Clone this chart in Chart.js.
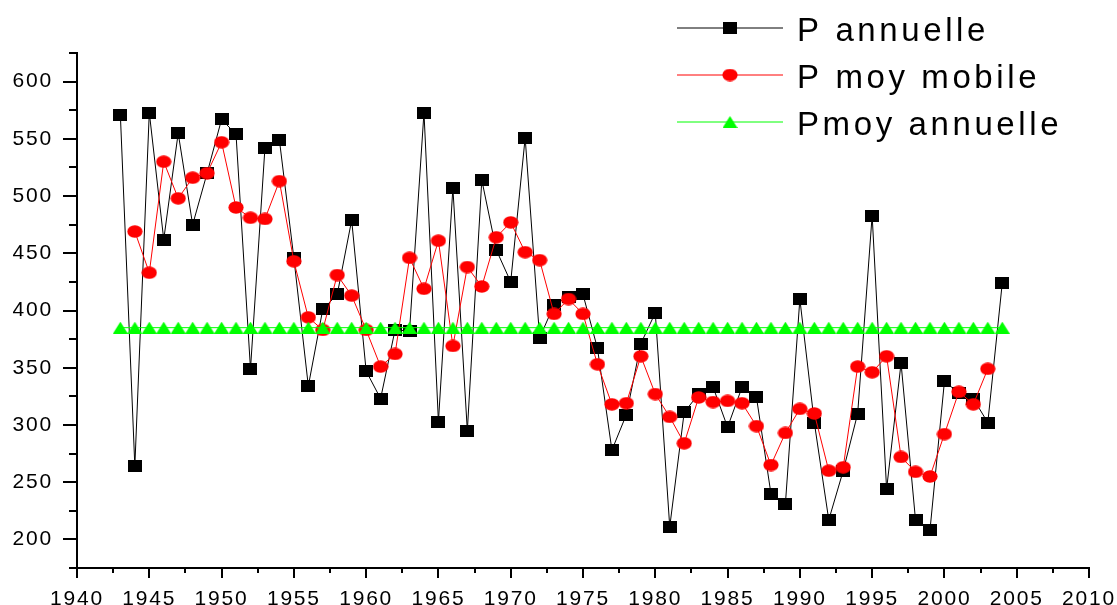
<!DOCTYPE html>
<html>
<head>
<meta charset="utf-8">
<script src="https://cdn.jsdelivr.net/npm/chart.js@4.4.1/dist/chart.umd.min.js"></script>
<style>
  html, body { margin: 0; padding: 0; background: #fff; }
  #wrap { width: 1117px; height: 605px; }
</style>
</head>
<body>
<div id="wrap"><canvas id="chart" width="1117" height="605"></canvas></div>
<script>
// Years on the x axis
const years = [
  1943, 1944, 1945, 1946, 1947, 1948, 1949, 1950, 1951, 1952,
  1953, 1954, 1955, 1956, 1957, 1958, 1959, 1960, 1961, 1962,
  1963, 1964, 1965, 1966, 1967, 1968, 1969, 1970, 1971, 1972,
  1973, 1974, 1975, 1976, 1977, 1978, 1979, 1980, 1981, 1982,
  1983, 1984, 1985, 1986, 1987, 1988, 1989, 1990, 1991, 1992,
  1993, 1994, 1995, 1996, 1997, 1998, 1999, 2000, 2001, 2002,
  2003, 2004
];

// P annuelle (black squares)
const pAnnuelle = [
  571, 264, 573, 462, 555, 475, 520, 567, 554, 349,
  542, 549, 446, 334, 401, 414, 479, 347, 323, 383,
  382, 573, 303, 507, 295, 514, 453, 425, 551, 376,
  405, 412, 414, 367, 278, 309, 371, 398, 211, 311,
  327, 333, 298, 333, 324, 240, 231, 410, 302, 217,
  260, 310, 483, 244, 354, 217, 208, 338, 328, 323,
  302, 424
];

// P moy mobile (red circles), no value for first and last year
const pMoyMobile = [
  null, 469, 433, 530, 498, 516, 520, 547, 490, 481,
  480, 513, 443, 394, 383, 431, 413, 383, 351, 362,
  446, 419, 461, 369, 438, 421, 464, 477, 451, 444,
  397, 410, 397, 353, 318, 319, 360, 327, 307, 284,
  324, 320, 321, 319, 299, 265, 293, 314, 310, 260,
  263, 351, 346, 360, 272, 259, 255, 292, 329, 318,
  349, null
];

// Pmoy annuelle (green triangles)
const pMoyAnnuelle = [
  385, 385, 385, 385, 385, 385, 385, 385, 385, 385,
  385, 385, 385, 385, 385, 385, 385, 385, 385, 385,
  385, 385, 385, 385, 385, 385, 385, 385, 385, 385,
  385, 385, 385, 385, 385, 385, 385, 385, 385, 385,
  385, 385, 385, 385, 385, 385, 385, 385, 385, 385,
  385, 385, 385, 385, 385, 385, 385, 385, 385, 385,
  385, 385
];

const xTicks = [1940, 1945, 1950, 1955, 1960, 1965, 1970, 1975, 1980, 1985, 1990, 1995, 2000, 2005, 2010];
const xMinorTicks = [1942.5, 1947.5, 1952.5, 1957.5, 1962.5, 1967.5, 1972.5, 1977.5, 1982.5, 1987.5, 1992.5, 1997.5, 2002.5, 2007.5];
const yTicks = [200, 250, 300, 350, 400, 450, 500, 550, 600];
const yMinorTicks = [175, 225, 275, 325, 375, 425, 475, 525, 575, 625];
const seriesNames = ['P annuelle', 'P moy mobile', 'Pmoy annuelle'];

const FONT = "'Liberation Sans', Arial, sans-serif";

// Marker images (the reference markers are a little wider than tall)
function makeMarker(kind, color) {
  const c = document.createElement('canvas');
  const ctx = c.getContext('2d');
  if (kind === 'square') {
    c.width = 14; c.height = 12;
    ctx.fillStyle = color;
    ctx.fillRect(0, 0, 14, 12);
  } else if (kind === 'ellipse') {
    c.width = 16; c.height = 13;
    ctx.fillStyle = color;
    ctx.beginPath();
    ctx.ellipse(8, 6.5, 7.6, 6.2, 0, 0, Math.PI * 2);
    ctx.fill();
  } else {
    c.width = 15; c.height = 12;
    ctx.fillStyle = color;
    ctx.beginPath();
    ctx.moveTo(7.5, 0);
    ctx.lineTo(15, 12);
    ctx.lineTo(0, 12);
    ctx.closePath();
    ctx.fill();
  }
  return c;
}

const squareMark = makeMarker('square', '#000000');
const circleMark = makeMarker('ellipse', '#ff0000');
const triangleMark = makeMarker('triangle', '#00ff00');

function toPoints(values) {
  return years.map((yr, i) => ({ x: yr, y: values[i] }));
}

// Letter spacing for the axis labels
const spacingPlugin = {
  id: 'spacing',
  beforeDraw(chart) { chart.ctx.letterSpacing = '1.8px'; },
  afterDraw(chart) { chart.ctx.letterSpacing = '0px'; }
};

// Minor ticks on both axes
const minorTicksPlugin = {
  id: 'minorTicks',
  afterDraw(chart) {
    const ctx = chart.ctx;
    const xs = chart.scales.x;
    const ys = chart.scales.y;
    const area = chart.chartArea;
    ctx.save();
    ctx.strokeStyle = '#000';
    ctx.lineWidth = 2;
    ctx.beginPath();
    yMinorTicks.forEach(v => {
      const py = Math.round(ys.getPixelForValue(v));
      ctx.moveTo(area.left, py);
      ctx.lineTo(area.left - 8, py);
    });
    xMinorTicks.forEach(v => {
      const px = Math.round(xs.getPixelForValue(v));
      ctx.moveTo(px, area.bottom);
      ctx.lineTo(px, area.bottom + 5);
    });
    ctx.stroke();
    ctx.restore();
  }
};

// Legend drawn at the top right, line through marker like the original
const legendPlugin = {
  id: 'sideLegend',
  afterDraw(chart) {
    const ctx = chart.ctx;
    const rows = [
      { y: 28, color: '#000000', mark: squareMark },
      { y: 75, color: '#ff0000', mark: circleMark },
      { y: 122, color: '#00ff00', mark: triangleMark }
    ];
    ctx.save();
    ctx.letterSpacing = '3.6px';
    ctx.font = '33px ' + FONT;
    ctx.textBaseline = 'alphabetic';
    ctx.textAlign = 'left';
    rows.forEach((r, i) => {
      ctx.strokeStyle = r.color;
      ctx.lineWidth = 1;
      ctx.beginPath();
      ctx.moveTo(677, r.y);
      ctx.lineTo(783, r.y);
      ctx.stroke();
      ctx.drawImage(r.mark, 730 - r.mark.width / 2, r.y - r.mark.height / 2);
      ctx.fillStyle = '#000';
      ctx.fillText(seriesNames[i], 797, r.y + 13);
    });
    ctx.restore();
  }
};

new Chart(document.getElementById('chart'), {
  type: 'line',
  data: {
    datasets: [
      {
        label: seriesNames[0],
        data: toPoints(pAnnuelle),
        borderColor: '#000000',
        borderWidth: 1,
        pointStyle: squareMark,
        order: 3
      },
      {
        label: seriesNames[1],
        data: toPoints(pMoyMobile),
        borderColor: '#ff0000',
        borderWidth: 1,
        pointStyle: circleMark,
        order: 2
      },
      {
        label: seriesNames[2],
        data: toPoints(pMoyAnnuelle),
        borderColor: '#00ff00',
        borderWidth: 1,
        pointStyle: triangleMark,
        order: 1
      }
    ]
  },
  options: {
    responsive: false,
    animation: false,
    devicePixelRatio: 1,
    layout: { padding: { top: 53, right: 28, left: 0, bottom: 0 } },
    elements: { line: { tension: 0, fill: false } },
    plugins: {
      legend: { display: false },
      tooltip: { enabled: false },
      title: { display: false }
    },
    scales: {
      x: {
        type: 'linear',
        min: 1940,
        max: 2010,
        afterBuildTicks: scale => { scale.ticks = xTicks.map(v => ({ value: v })); },
        afterFit: scale => {
          scale.height = 37;
          scale.paddingLeft = 0;
          scale.paddingRight = 0;
        },
        grid: { drawOnChartArea: false, color: '#000', lineWidth: 2, tickLength: 10 },
        border: { display: true, color: '#000', width: 2 },
        ticks: {
          color: '#000',
          font: { family: FONT, size: 21 },
          padding: 9,
          maxRotation: 0,
          autoSkip: false,
          callback: v => String(v)
        }
      },
      y: {
        min: 175,
        max: 625,
        afterBuildTicks: scale => { scale.ticks = yTicks.map(v => ({ value: v })); },
        afterFit: scale => {
          scale.width = 77;
          scale.paddingTop = 0;
          scale.paddingBottom = 0;
        },
        grid: { drawOnChartArea: false, color: '#000', lineWidth: 2, tickLength: 14 },
        border: { display: true, color: '#000', width: 2 },
        ticks: {
          color: '#000',
          font: { family: FONT, size: 21 },
          padding: 10,
          autoSkip: false,
          callback: v => String(v)
        }
      }
    }
  },
  plugins: [spacingPlugin, minorTicksPlugin, legendPlugin]
});
</script>
</body>
</html>
